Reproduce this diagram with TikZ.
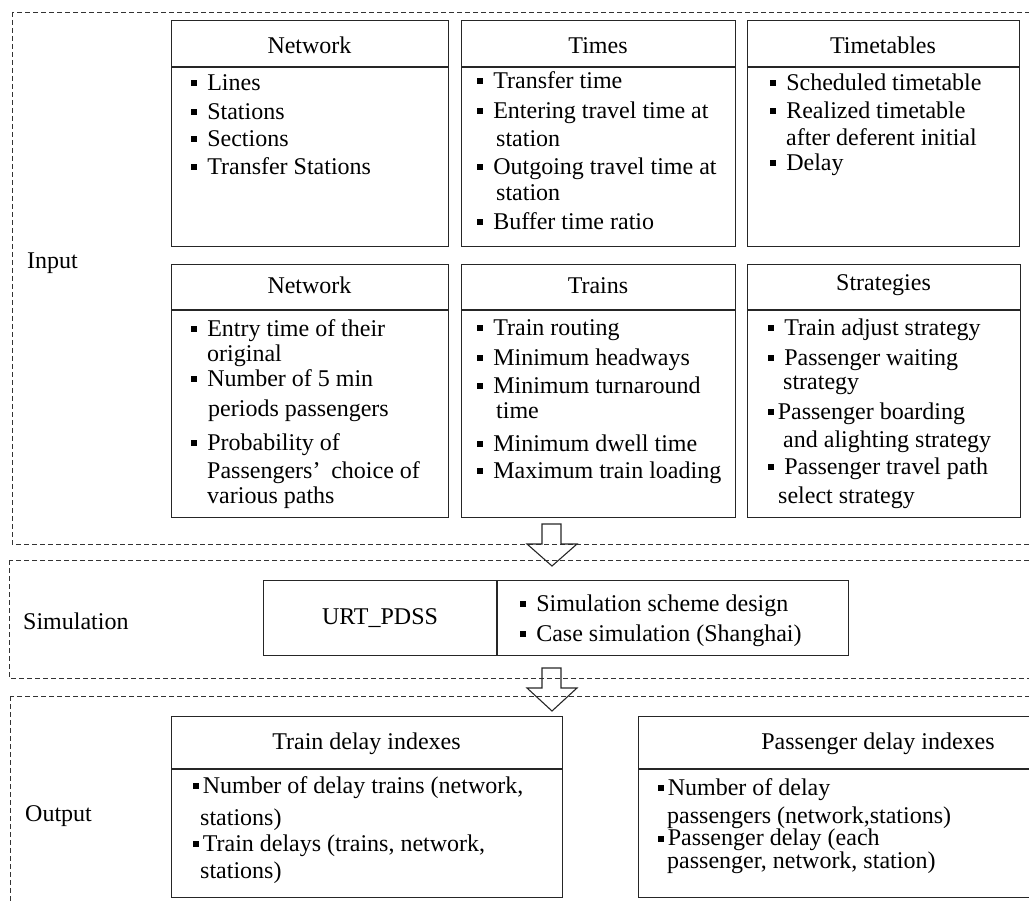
\documentclass[tikz,border=0pt]{standalone}
\usepackage{fontspec}
\setmainfont{Liberation Serif}
\newcommand\bul{\raisebox{0.17em}{\rule{0.25em}{0.25em}}\hspace{0.42em}}
\newcommand\bult{\raisebox{0.17em}{\rule{0.25em}{0.25em}}\hspace{0.15em}}
\tikzset{
  frame/.style={draw=black!80, line width=0.8pt, dash pattern=on 5pt off 3pt},
  box/.style={draw=black!85, line width=1.3pt, anchor=north west, inner sep=0pt},
  sep/.style={draw=black!85, line width=1.3pt},
  it/.style={anchor=west, inner sep=0pt, yshift=-2.5pt, font=\fontsize{24}{29}\selectfont, execute at begin node=\strut},
  ttl/.style={inner sep=0pt, yshift=-1.5pt, font=\fontsize{24}{29}\selectfont},
  blockarrow/.style={draw=black!85, line width=1.1pt, line join=miter}
}
\begin{document}
\begin{tikzpicture}[x=1pt,y=-1pt]
\useasboundingbox (0,0) rectangle (1029,901);
\clip (0,0) rectangle (1029,901);

% dashed frames
\draw[frame] (12,12) rectangle (1045,544);
\draw[frame] (9,560) rectangle (1045,678);
\draw[frame] (10,696) rectangle (1045,915);

% section labels
\node[it] (linput) at (27,260) {Input};
\node[it] (lsim) at (23,621) {Simulation};
\node[it] (lout) at (25,813) {Output};

% ---------- Input row 1 ----------
\node[box, minimum width=277pt, minimum height=226pt] (netA) at (171,20) {};
\draw[sep] (171,67) -- (448,67);
\node[ttl] (netAt) at (309.5,44) {Network};
\node[it] (netA1) at (191,82) {\bul Lines};
\node[it] (netA2) at (191,111) {\bul Stations};
\node[it] (netA3) at (191,138) {\bul Sections};
\node[it] (netA4) at (191,166) {\bul Transfer Stations};

\node[box, minimum width=274pt, minimum height=226pt] (times) at (461,20) {};
\draw[sep] (461,67) -- (735,67);
\node[ttl] (timest) at (598,44) {Times};
\node[it] (times1) at (477,80) {\bul Transfer time};
\node[it] (times2) at (477,110) {\bul Entering travel time at};
\node[it] (times3) at (496,138) {station};
\node[it] (times4) at (477,166) {\bul Outgoing travel time at};
\node[it] (times5) at (496,192) {station};
\node[it] (times6) at (477,221) {\bul Buffer time ratio};

\node[box, minimum width=272pt, minimum height=226pt] (ttab) at (747,20) {};
\draw[sep] (747,67) -- (1019,67);
\node[ttl] (ttabt) at (883,44) {Timetables};
\node[it] (ttab1) at (770,82) {\bul Scheduled timetable};
\node[it] (ttab2) at (770,110) {\bul Realized timetable};
\node[it] (ttab3) at (786,137) {after deferent initial};
\node[it] (ttab4) at (770,162) {\bul Delay};

% ---------- Input row 2 ----------
\node[box, minimum width=277pt, minimum height=253pt] (netB) at (171,264) {};
\draw[sep] (171,310) -- (448,310);
\node[ttl] (netBt) at (309.5,284) {Network};
\node[it] (netB1) at (191,328) {\bul Entry time of their};
\node[it] (netB2) at (207,353) {original};
\node[it] (netB3) at (191,378) {\bul Number of 5 min};
\node[it] (netB4) at (208,408) {periods passengers};
\node[it] (netB5) at (191,442) {\bul Probability of};
\node[it] (netB6) at (207,470) {Passengers’\hspace{0.45em}choice of};
\node[it] (netB7) at (207,495) {various paths};

\node[box, minimum width=274pt, minimum height=253pt] (trains) at (461,264) {};
\draw[sep] (461,310) -- (735,310);
\node[ttl] (trainst) at (598,284) {Trains};
\node[it] (trains1) at (477,327) {\bul Train routing};
\node[it] (trains2) at (477,357) {\bul Minimum headways};
\node[it] (trains3) at (477,385) {\bul Minimum turnaround};
\node[it] (trains4) at (496,410) {time};
\node[it] (trains5) at (477,443) {\bul Minimum dwell time};
\node[it] (trains6) at (477,470) {\bul Maximum train loading};

\node[box, minimum width=273pt, minimum height=253pt] (strat) at (747,264) {};
\draw[sep] (747,310) -- (1020,310);
\node[ttl] (stratt) at (883.5,284) {Strategies};
\node[it] (strat1) at (768,327) {\bul Train adjust strategy};
\node[it] (strat2) at (768,357) {\bul Passenger waiting};
\node[it] (strat3) at (783,381) {strategy};
\node[it] (strat4) at (768,411) {\bult Passenger boarding};
\node[it] (strat5) at (783,439) {and alighting strategy};
\node[it] (strat6) at (768,466) {\bul Passenger travel path};
\node[it] (strat7) at (778,495) {select strategy};

% ---------- Simulation ----------
\node[box, minimum width=585pt, minimum height=75pt] (sim) at (263,580) {};
\draw[sep] (497,580) -- (497,655);
\node[ttl] (simt) at (380,617) {URT\_PDSS};
\node[it] (sim1) at (520,603) {\bul Simulation scheme design};
\node[it] (sim2) at (520,633) {\bul Case simulation (Shanghai)};

% ---------- Output ----------
\node[box, minimum width=391pt, minimum height=181pt] (outL) at (171,716) {};
\draw[sep] (171,769) -- (562,769);
\node[ttl] (outLt) at (366.5,742) {Train delay indexes};
\node[it] (outL1) at (193,785) {\bult Number of delay trains (network,};
\node[it] (outL2) at (200,817) {stations)};
\node[it] (outL3) at (193,843) {\bult Train delays (trains, network,};
\node[it] (outL4) at (200,870) {stations)};

\node[box, minimum width=480pt, minimum height=181pt] (outR) at (638,716) {};
\draw[sep] (638,769) -- (1118,769);
\node[ttl] (outRt) at (878,742) {Passenger delay indexes};
\node[it] (outR1) at (658,787) {\bult Number of delay};
\node[it] (outR2) at (667,815) {passengers (network,stations)};
\node[anchor=north west, inner sep=0pt, align=left, font=\fontsize{24}{20}\selectfont] (outR3) at (658,829)
  {\bult Passenger delay (each\\\hspace*{9pt}passenger, network, station)};

% ---------- block arrows ----------
\coordinate (arr1) at (552,524);
\coordinate (arr2) at (552,668);
\draw[blockarrow, shift={(arr1)}] (-10,0) -- (9,0) -- (9,20) -- (25,20) -- (0,42) -- (-25,20) -- (-10,20) -- cycle;
\draw[blockarrow, shift={(arr2)}] (-10,0) -- (9,0) -- (9,20) -- (25,20) -- (0,43) -- (-25,20) -- (-10,20) -- cycle;
\end{tikzpicture}
\end{document}
